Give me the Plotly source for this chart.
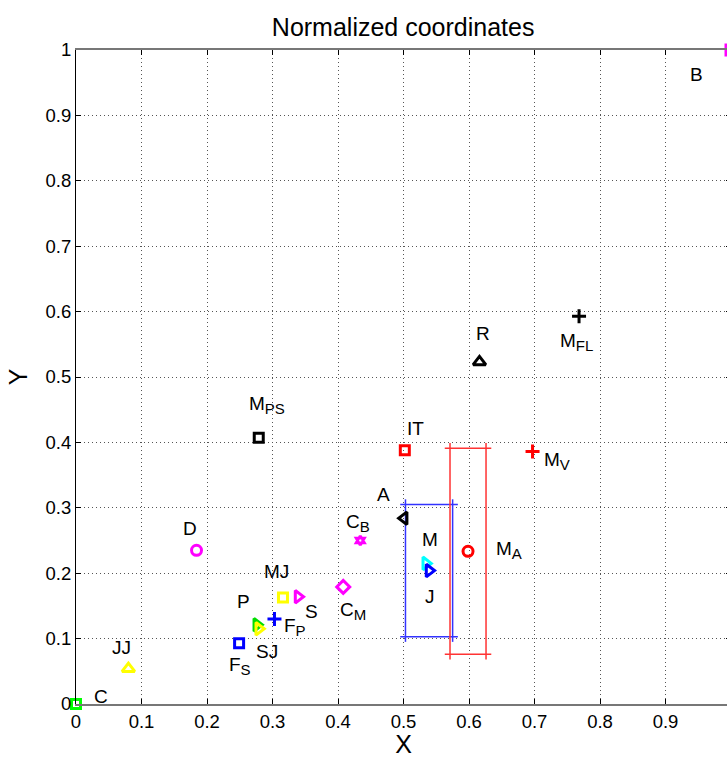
import plotly.graph_objects as go

# Points in normalized coordinates
names = ["C", "JJ", "D", "M<sub>PS</sub>", "F<sub>S</sub>", "P", "SJ", "F<sub>P</sub>",
         "MJ", "S", "C<sub>M</sub>", "C<sub>B</sub>", "A", "IT", "M", "J",
         "M<sub>A</sub>", "M<sub>V</sub>", "R", "M<sub>FL</sub>", "B"]
x_vals = [0.0, 0.080, 0.184, 0.279, 0.249, 0.276, 0.279, 0.303,
          0.316, 0.339, 0.408, 0.434, 0.501, 0.502, 0.534, 0.539,
          0.5985, 0.697, 0.616, 0.768, 1.0]
y_vals = [0.0, 0.054, 0.235, 0.407, 0.093, 0.121, 0.115, 0.130,
          0.163, 0.164, 0.179, 0.250, 0.284, 0.388, 0.215, 0.204,
          0.2335, 0.386, 0.523, 0.593, 1.0]

# Marker style per point
symbols = ["square-open", "triangle-up-open", "circle-open", "square-open", "square-open",
           "triangle-right-open", "triangle-right-open", "cross-thin-open",
           "square-open", "triangle-right-open", "diamond-open", "hexagram-open",
           "triangle-left-open", "square-open", "triangle-right-open", "triangle-right-open",
           "circle-open", "cross-thin-open", "triangle-up-open", "cross-thin-open", "square-open"]
sizes = [9, 11, 10, 9, 9, 11, 11, 10, 9, 11, 10, 7, 11, 9, 11, 11, 10, 10, 11, 10, 10]
colors = ["#00ff00", "#ffff00", "#ff00ff", "#000000", "#0000ff",
          "#00dd00", "#ffff00", "#0000ff",
          "#ffff00", "#ff00ff", "#ff00ff", "#ff00ff",
          "#000000", "#ff0000", "#00ffff", "#0000ff",
          "#ff0000", "#ff0000", "#000000", "#000000", "#ff00ff"]

# Where each name is written
label_x = [0.038, 0.070, 0.174, 0.292, 0.251, 0.256, 0.292, 0.335,
           0.306, 0.359, 0.423, 0.431, 0.469, 0.518, 0.540, 0.540,
           0.661, 0.735, 0.621, 0.764, 0.948]
label_y = [0.011, 0.086, 0.268, 0.457, 0.058, 0.156, 0.080, 0.118,
           0.202, 0.142, 0.142, 0.277, 0.321, 0.422, 0.251, 0.165,
           0.235, 0.372, 0.567, 0.553, 0.962]

# Spread boxes around J and M_A (half-widths in x and y)
spread_points = ["J", "M<sub>A</sub>"]
spread_dx = [0.036, 0.0275]
spread_dy = [0.101, 0.1575]
spread_colors = ["#3333ff", "#ff3333"]
overshoot = 0.008

ticks = [0, 0.1, 0.2, 0.3, 0.4, 0.5, 0.6, 0.7, 0.8, 0.9, 1]
tick_text = ["0", "0.1", "0.2", "0.3", "0.4", "0.5", "0.6", "0.7", "0.8", "0.9", "1"]

FONT = "Liberation Sans, Arial"


def label_html(text):
    # slightly larger subscripts than the default 70%
    return text.replace("<sub>", "<sub><span style='font-size:15px'>").replace(
        "</sub>", "</span></sub>")


fig = go.Figure()

for name, dx, dy, col in zip(spread_points, spread_dx, spread_dy, spread_colors):
    i = names.index(name)
    cx, cy = x_vals[i], y_vals[i]
    xs, ys = [], []
    for sx in (-1, 1):
        xs += [cx + sx * dx, cx + sx * dx, None]
        ys += [cy - dy - overshoot, cy + dy + overshoot, None]
    for sy in (-1, 1):
        xs += [cx - dx - overshoot, cx + dx + overshoot, None]
        ys += [cy + sy * dy, cy + sy * dy, None]
    fig.add_trace(go.Scatter(x=xs, y=ys, mode="lines",
                             line=dict(color=col, width=1.5),
                             hoverinfo="skip", showlegend=False))

for i in range(len(names)):
    fig.add_trace(go.Scatter(
        x=[x_vals[i]], y=[y_vals[i]], mode="markers", cliponaxis=False,
        marker=dict(symbol=symbols[i], size=sizes[i], color=colors[i],
                    line=dict(color=colors[i], width=3)),
        name=names[i], showlegend=False))

for i in range(len(names)):
    fig.add_annotation(x=label_x[i], y=label_y[i], text=label_html(names[i]),
                       showarrow=False, xanchor="center", yanchor="middle",
                       font=dict(family=FONT, size=19, color="black"))

axis_common = dict(range=[0, 1], tickvals=ticks, ticktext=tick_text,
                   showgrid=True, gridcolor="#555555", griddash="1px,3px", gridwidth=1,
                   zeroline=False, ticks="inside", ticklen=5, tickcolor="black",
                   tickfont=dict(family=FONT, size=18.5, color="black"),
                   mirror="ticks", showline=True)

fig.update_layout(
    width=735, height=758,
    margin=dict(l=76, r=4, t=50, b=54),
    paper_bgcolor="white", plot_bgcolor="white",
    title=dict(text="Normalized coordinates", x=0.5485, xanchor="center",
               y=1 - 27 / 758, yanchor="middle", yref="container",
               font=dict(family=FONT, size=25, color="black")),
    xaxis=dict(**axis_common, linecolor="#777777", linewidth=2,
               title=dict(text="X", standoff=2,
                          font=dict(family=FONT, size=25, color="black"))),
    yaxis=dict(**axis_common, linecolor="black", linewidth=1,
               title=dict(text="Y", standoff=10,
                          font=dict(family=FONT, size=25, color="black"))),
)

fig.write_html("out.html",
               post_script="document.documentElement.style.overflow='hidden';"
                           "document.body.style.overflow='hidden';")
